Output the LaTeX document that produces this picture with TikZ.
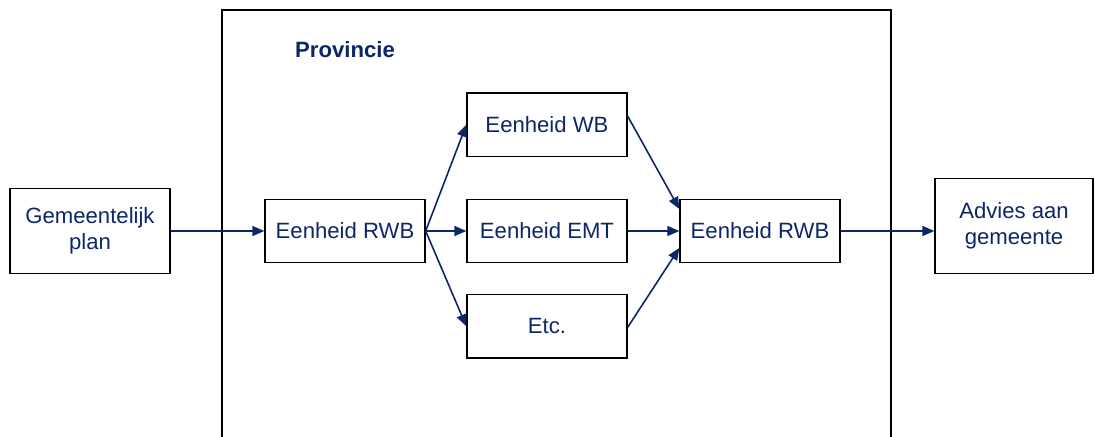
\documentclass[tikz,border=0pt]{standalone}
\usepackage{fontspec}
\setmainfont{Liberation Sans}
\usetikzlibrary{positioning,arrows.meta}
\definecolor{navy}{RGB}{12,38,104}
\tikzset{
  >={Triangle[length=9pt,width=7.5pt]},
  blok/.style={
    rectangle,
    draw=black, line width=1pt,
    text=navy,
    minimum width=120pt,
    minimum height=47.5pt,
    align=center,
    inner sep=2pt,
    font=\fontsize{16.6}{19.5}\selectfont},
  pijl/.style={draw=navy, line width=1.2pt, ->},
  kader/.style={draw=black, line width=1pt},
}

\begin{document}
\begin{tikzpicture}[x=0.75pt, y=-0.75pt, node distance=30.5pt]
  \useasboundingbox (0,0) rectangle (1095,436);
  % provincie
  \draw[kader] (222,440) |- (891,10) -- (891,440);
  \node[text=navy, font=\bfseries\fontsize{16.6}{19}\selectfont] (provincie) at (345,50) {Provincie};

  \node[blok] (rwb-in) at (345,231) {Eenheid RWB};
  \node[blok, minimum height=63.75pt, left=70.25pt of rwb-in] (plan) {Gemeentelijk\\plan};
  \node[blok, right=30.5pt of rwb-in] (emt) {Eenheid EMT};
  \node[blok, above=31.25pt of emt] (wb) {Eenheid WB};
  \node[blok, below=23pt of emt] (etc) {Etc.};
  \node[blok, right=38.75pt of emt] (rwb-uit) {Eenheid RWB};
  \node[blok, minimum width=118.5pt, minimum height=71.25pt,
    right=70.25pt of rwb-uit, yshift=3.75pt] (advies) {Advies aan\\gemeente};

  % pijlen
  \draw[pijl] (plan) -- (rwb-in);
  \draw[pijl] (rwb-in.east) -- (wb.west);
  \draw[pijl] (rwb-in.east) -- (emt.west);
  \draw[pijl] (rwb-in.east) -- (etc.west);
  \draw[pijl] ([yshift=6.4pt]wb.east) -- ([yshift=16.5pt]rwb-uit.west);
  \draw[pijl] (emt.east) -- (rwb-uit.west);
  \draw[pijl] ([yshift=-0.75pt]etc.east) -- ([yshift=-12.75pt]rwb-uit.west);
  \draw[pijl] (rwb-uit.east) -- (rwb-uit.east -| advies.west);
\end{tikzpicture}
\end{document}
